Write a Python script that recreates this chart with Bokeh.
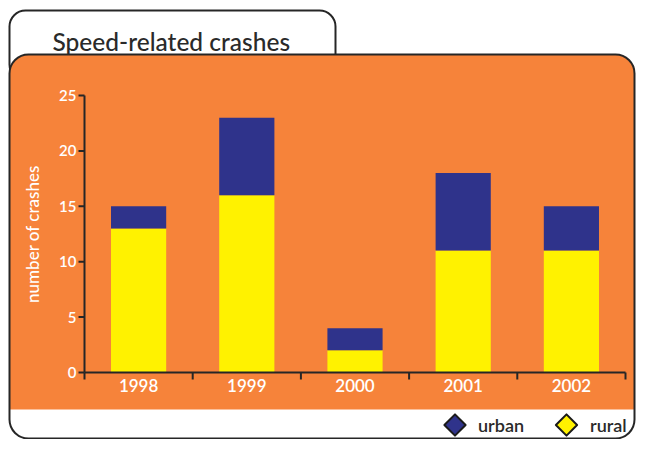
import math
from bokeh.plotting import figure
from bokeh.models import Range1d, BoxAnnotation, Legend, LegendItem, ColumnDataSource
from bokeh.core.properties import value
from bokeh.embed import file_html
from bokeh.resources import INLINE

# ---- data ----
years = ["1998", "1999", "2000", "2001", "2002"]
rural = [13, 16, 2, 11, 11]
urban = [2, 7, 2, 7, 4]
y_ticks = [0, 5, 10, 15, 20, 25]
title_text = "Speed-related crashes"
y_label = "number of crashes"
legend_labels = ["urban", "rural"]

# ---- styles ----
ORANGE = "#F6833A"
NAVY = "#2F338B"
YELLOW = "#FFF200"
DARK = "#262626"
TXT = "#2a2a2a"
TITLE_FONT = "'Lato Medium', Lato"
FONT = "'Lato Semibold', Lato"

W, H = 636, 439
# plot-area box on the canvas (pixels from top-left)
FL, FR, FT, FB = 84, 625, 95, 372

n = len(years)
ymax = y_ticks[-1]
pxx = (FR - FL) / n
pxy = (FB - FT) / ymax

p = figure(width=W, height=H, x_range=Range1d(0, W), y_range=Range1d(H, 0),
           output_backend="svg", toolbar_location=None,
           x_axis_location=None, y_axis_location=None, min_border=0)
p.background_fill_color = "white"
p.border_fill_color = "white"
p.outline_line_color = None
p.grid.visible = False
p.extra_x_ranges = {"d": Range1d(-FL / pxx, n + (W - FR) / pxx)}
p.extra_y_ranges = {"d": Range1d(-(H - FB) / pxy, ymax + FT / pxy)}

# ---- decorations ----
def box(**kw):
    b = BoxAnnotation(level="underlay", **kw)
    p.add_layout(b)
    return b

box(left=9, right=335, top=10, bottom=80, fill_color="white", fill_alpha=1,
    line_color=DARK, line_width=2, line_alpha=1, border_radius=16)
box(left=9, right=634, top=54, bottom=438, fill_color=ORANGE, fill_alpha=1,
    line_color=None, border_radius=19)
box(left=9, right=634, top=409, bottom=438, fill_color="white", fill_alpha=1,
    line_color=None, border_radius=(0, 0, 19, 19))
box(left=9, right=634, top=54, bottom=438, fill_alpha=0,
    line_color=DARK, line_width=2, line_alpha=1, border_radius=19)

p.text(x=[52], y=[41], text=[title_text], text_font=value(TITLE_FONT), text_font_size="24.5px",
       text_color=TXT, text_baseline="alphabetic", text_align="left")

# ---- bars ----
x_pos = [i + 0.5 for i in range(n)]
source = ColumnDataSource(dict(x=x_pos, rural=rural, urban=urban))
p.vbar_stack(["rural", "urban"], x="x", width=0.51, source=source,
             fill_color=[YELLOW, NAVY], line_color=None,
             x_range_name="d", y_range_name="d")

# ---- axes (drawn through the data scales) ----
R = dict(x_range_name="d", y_range_name="d")
p.segment(x0=[0, 0], y0=[0, 0], x1=[n, 0], y1=[0, ymax], line_color=DARK, line_width=2, **R)
# y ticks (outside, 6px) and labels
p.segment(x0=[0] * len(y_ticks), y0=y_ticks, x1=[-6 / pxx] * len(y_ticks), y1=y_ticks,
          line_color=DARK, line_width=2, **R)
p.text(x=[-8 / pxx] * len(y_ticks), y=y_ticks, text=[str(t) for t in y_ticks],
       text_font=value(FONT), text_font_size="15px", text_color="white",
       text_align="right", text_baseline="middle", **R)
# x ticks at category boundaries (7px down) and labels at centres
bounds = list(range(n + 1))
p.segment(x0=bounds, y0=[0] * len(bounds), x1=bounds, y1=[-7 / pxy] * len(bounds),
          line_color=DARK, line_width=2, **R)
p.text(x=x_pos, y=[-6 / pxy] * n, text=years,
       text_font=value(FONT), text_font_size="17px", text_color="white",
       text_align="center", text_baseline="top", **R)
# y axis label
p.text(x=[-52 / pxx], y=[ymax / 2], text=[y_label], angle=math.pi / 2,
       text_font=value(TITLE_FONT), text_font_size="17px", text_color="white",
       text_align="center", text_baseline="middle", **R)

# ---- legend ----
# legend layout keyed to invisible sample renderers; the diamond keys are drawn on top
r_u = p.scatter(x=[-1000], y=[-1000], marker="square", size=1, fill_alpha=0, line_alpha=0)
r_r = p.scatter(x=[-1000], y=[-1000], marker="square", size=1, fill_alpha=0, line_alpha=0)
LEG_X, LEG_GLYPH, LEG_STANDOFF, LEG_SPACING = 437, 35, 6, 25
legend = Legend(items=[LegendItem(label=legend_labels[0], renderers=[r_u]),
                       LegendItem(label=legend_labels[1], renderers=[r_r])],
                orientation="horizontal", location=(LEG_X, -3), margin=0, padding=0,
                glyph_width=LEG_GLYPH, glyph_height=LEG_GLYPH, label_standoff=LEG_STANDOFF,
                spacing=LEG_SPACING,
                label_text_font=FONT, label_text_font_size="18px", label_text_color=TXT,
                background_fill_alpha=0, border_line_alpha=0)
p.add_layout(legend, "center")
key_y = H + 3 - LEG_GLYPH / 2
p.scatter(x=[LEG_X + LEG_GLYPH / 2, 566], y=[key_y, key_y], marker="square", size=15,
          angle=math.pi / 4, fill_color=[NAVY, YELLOW], line_color="#1a1a1a",
          line_width=2, line_join="round")

open("out.html", "w").write(file_html(p, INLINE))
